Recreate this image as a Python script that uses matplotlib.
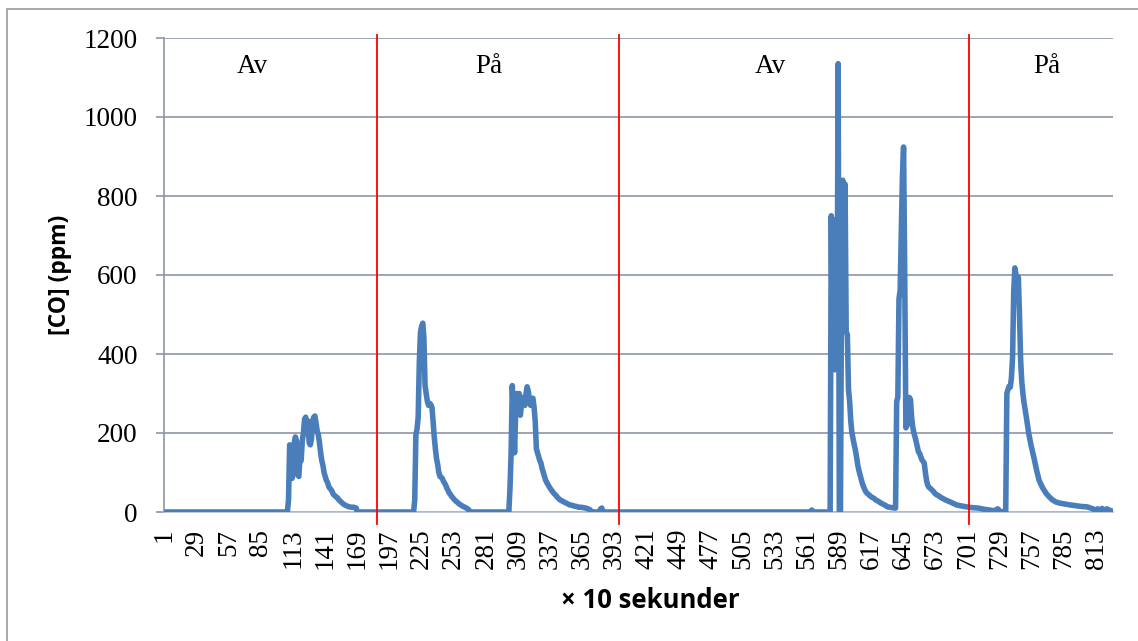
import numpy as np
import matplotlib.pyplot as plt
from matplotlib.patches import Rectangle

# CO-halt, en punkt var 10:e sekund
base1_x = [1, 108]
base1_y = [0, 0]

peak1_x = [109, 110, 111, 112, 113, 114, 115, 116, 117, 118, 119, 120, 121, 122, 123, 124,
           125, 126, 127, 128, 129, 130, 131, 132, 133, 134, 135, 136, 137, 138, 139, 140,
           141, 142, 143, 144, 145, 146, 147, 148, 149, 150, 151, 152, 153, 154, 155, 156,
           157, 158, 160, 162, 164, 166, 168, 169]
peak1_y = [30, 170, 165, 85, 95, 175, 190, 180, 95, 90, 140, 130, 180, 200, 235, 240,
           200, 230, 175, 170, 185, 230, 240, 243, 225, 205, 195, 175, 150, 130, 118, 100,
           90, 80, 75, 65, 60, 57, 52, 45, 42, 40, 37, 35, 30, 28, 25, 22,
           20, 18, 15, 13, 12, 12, 10, 0]

peak2_x = [218, 219, 220, 221, 222, 223, 224, 225, 226, 227, 228, 229, 230, 231, 232, 233,
           234, 235, 236, 237, 238, 239, 240, 241, 242, 243, 244, 245, 246, 247, 248, 249,
           250, 251, 252, 253, 254, 255, 256, 257, 258, 260, 262, 264, 266, 267]
peak2_y = [0, 30, 195, 210, 240, 380, 455, 470, 478, 440, 320, 300, 280, 270, 275, 272,
           265, 230, 190, 160, 135, 120, 100, 90, 88, 85, 78, 73, 68, 60, 55, 48,
           45, 40, 37, 33, 30, 27, 25, 22, 20, 16, 13, 10, 6, 0]

peak3_x = [301, 302, 303, 304, 305, 306, 307, 308, 309, 310, 311, 312, 313, 314, 315, 316,
           317, 318, 319, 320, 321, 322, 323, 324, 325, 326, 327, 328, 329, 330, 331, 332,
           333, 334, 335, 336, 337, 338, 340, 342, 344, 346, 348, 350, 352, 354, 356, 358,
           360, 362, 364, 366, 368, 370, 372, 373, 380, 381, 382, 383]
peak3_y = [0, 60, 150, 320, 250, 150, 260, 300, 285, 300, 245, 270, 290, 278, 270, 300,
           317, 305, 285, 270, 285, 288, 265, 230, 160, 150, 140, 130, 124, 110, 100, 90,
           81, 75, 70, 65, 60, 56, 48, 42, 35, 30, 27, 24, 21, 18, 17, 15,
           14, 12, 12, 11, 10, 8, 5, 0, 0, 8, 10, 0]

base2_x = [564, 565, 566]
base2_y = [0, 5, 0]

peak4_x = [581, 582, 583, 584, 585, 586, 587, 588, 589, 590, 591, 592, 593, 594, 595, 596,
           597, 598, 599, 600, 601, 602, 603, 604, 605, 606, 607, 608, 609, 610, 611, 612,
           613, 615, 617, 619, 621, 623, 625, 627, 629, 631, 633, 635, 637]
peak4_y = [0, 750, 370, 740, 360, 720, 420, 1135, 0, 0, 620, 840, 460, 830, 455, 450,
           310, 280, 230, 200, 185, 170, 157, 140, 120, 106, 95, 85, 73, 65, 58, 52,
           48, 43, 38, 35, 30, 27, 23, 20, 17, 13, 12, 11, 10]

peak5_x = [638, 639, 640, 641, 642, 643, 644, 645, 646, 647, 648, 649, 650, 651, 652, 653,
           654, 655, 656, 657, 658, 659, 660, 661, 662, 663, 664, 665, 666, 667, 669, 671,
           673, 675, 678, 682, 686, 691, 696, 700, 705, 710, 715, 720, 724, 727, 729, 732, 734]
peak5_y = [10, 280, 290, 540, 560, 700, 850, 924, 600, 213, 220, 280, 290, 285, 240, 215,
           200, 190, 178, 165, 152, 148, 140, 132, 128, 124, 100, 80, 68, 63, 58, 52,
           45, 42, 36, 30, 25, 18, 15, 13, 11, 10, 7, 5, 3, 8, 2, 0, 0]

peak6_x = [735, 736, 737, 738, 739, 740, 741, 742, 743, 744, 745, 746, 747, 748, 749, 750,
           752, 754, 756, 759, 761, 763, 766, 769, 772, 775, 778, 782, 786, 790, 795, 800,
           805, 808, 810, 812, 814, 816, 818, 820, 822, 824, 827]
peak6_y = [300, 310, 318, 316, 340, 393, 560, 618, 600, 560, 595, 500, 385, 330, 300, 276,
           240, 200, 170, 132, 105, 81, 62, 48, 38, 30, 25, 22, 20, 18, 16, 14,
           13, 10, 8, 4, 8, 4, 9, 3, 8, 5, 2]

sample = base1_x + peak1_x + peak2_x + peak3_x + base2_x + peak4_x + peak5_x + peak6_x
co_ppm = base1_y + peak1_y + peak2_y + peak3_y + base2_y + peak4_y + peak5_y + peak6_y

n_samples = 827
tick_pos = list(range(1, 814, 28))
switch_pos = [186.5, 397.3, 702.2]
phase_labels = ["Av", "På", "Av", "På"]
phase_pos = [77.6, 284, 529, 770]

grid_col = "#8c96a6"

fig = plt.figure(figsize=[11.38, 6.41], dpi=100)
ax = fig.add_axes([164/1138, 1-512/641, (1113-164)/1138, (512-38)/641])

ax.plot(sample, co_ppm, color="#4a7ebb", lw=4.0, solid_joinstyle="round",
        solid_capstyle="round", zorder=3)

for xs in switch_pos:
    ax.axvline(xs, ymin=-0.025, ymax=1.006, color="red", lw=1.3, clip_on=False, zorder=4)

for t, xp in zip(phase_labels, phase_pos):
    ax.text(xp, 1127, t, ha="center", va="center", fontsize=19.5,
            family="Liberation Serif")

ax.set_xlim(0.5, n_samples + 0.5)
ax.set_ylim(0, 1200)
ax.set_yticks(range(0, 1201, 200))
ax.set_xticks(tick_pos)
ax.set_xticklabels([str(t) for t in tick_pos], rotation=90, family="Liberation Serif",
                   fontsize=19.5)
ax.tick_params(axis="x", length=0, pad=12)
ax.tick_params(axis="y", length=6, width=1.2, color=grid_col, pad=13, labelsize=19.5)
for lab in ax.get_yticklabels():
    lab.set_family("Liberation Serif")
ax.grid(axis="y", color=grid_col, lw=1.2)
ax.set_axisbelow(True)
for s in ["top", "right"]:
    ax.spines[s].set_visible(False)
ax.spines["left"].set_color(grid_col)
ax.spines["left"].set_linewidth(1.2)
ax.spines["bottom"].set_color("#b4bcc8")
ax.spines["bottom"].set_linewidth(1.2)

fig.text(60/1138, 1-275/641, "[CO] (ppm)", rotation=90, ha="center", va="center",
         fontsize=16.5, fontweight="bold", family="Open Sans")
fig.text(650/1138, 1-600/641, "× 10 sekunder", ha="center", va="center",
         fontsize=18.5, fontweight="bold", family="Open Sans")

# ram runt diagrammet (bara vänster/övre syns)
fig.patches.append(Rectangle((7/1138, -0.1), 1.2, 1-9/641+0.1, transform=fig.transFigure,
                             fill=False, edgecolor="#9a9a9a", lw=1.2))

plt.savefig("out.png", dpi=100)
